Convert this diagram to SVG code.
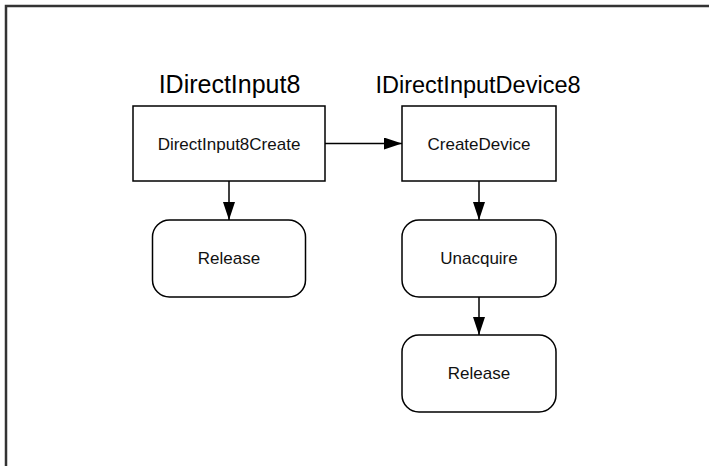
<svg xmlns="http://www.w3.org/2000/svg" width="709" height="466" viewBox="0 0 709 466">
<defs>
<marker id="ah" markerWidth="18" markerHeight="12" refX="18" refY="6" orient="auto" markerUnits="userSpaceOnUse">
<path d="M0,0 L18,6 L0,12 Z" fill="#000"/>
</marker>
<style>
.box{fill:#fff;stroke:#000;stroke-width:1.5}
.lbl{font-family:"Liberation Sans",Arial,sans-serif;font-size:17px;fill:#111;text-anchor:middle}
.ttl{font-family:"Liberation Sans",Arial,sans-serif;font-size:24.5px;fill:#000;text-anchor:middle}
.edge{stroke:#000;stroke-width:1.5;fill:none;marker-end:url(#ah)}
</style>
</defs>
<rect width="709" height="466" fill="#fff"/>
<path d="M6,466 V6 H709" fill="none" stroke="#333" stroke-width="2.5"/>
<text class="ttl" x="229.5" y="93" style="font-size:25px">IDirectInput8</text>
<text class="ttl" x="478" y="93" style="font-size:23.5px">IDirectInputDevice8</text>
<g id="edges">
<line class="edge" x1="325" y1="143.5" x2="402" y2="143.5"/>
<line class="edge" x1="229" y1="181" x2="229" y2="220"/>
<line class="edge" x1="479" y1="181" x2="479" y2="220"/>
<line class="edge" x1="479" y1="297" x2="479" y2="335"/>
</g>
<g id="n1">
<rect class="box" x="133" y="106" width="192" height="75"/>
<text class="lbl" x="229" y="149.5">DirectInput8Create</text>
</g>
<g id="n2">
<rect class="box" x="402" y="106" width="154" height="75"/>
<text class="lbl" x="479" y="149.5">CreateDevice</text>
</g>
<g id="n3">
<rect class="box" x="152.5" y="220" width="153" height="77" rx="17"/>
<text class="lbl" x="229" y="264">Release</text>
</g>
<g id="n4">
<rect class="box" x="402" y="220" width="154" height="77" rx="17"/>
<text class="lbl" x="479" y="264">Unacquire</text>
</g>
<g id="n5">
<rect class="box" x="402" y="335" width="154" height="77" rx="17"/>
<text class="lbl" x="479" y="379">Release</text>
</g>
</svg>
